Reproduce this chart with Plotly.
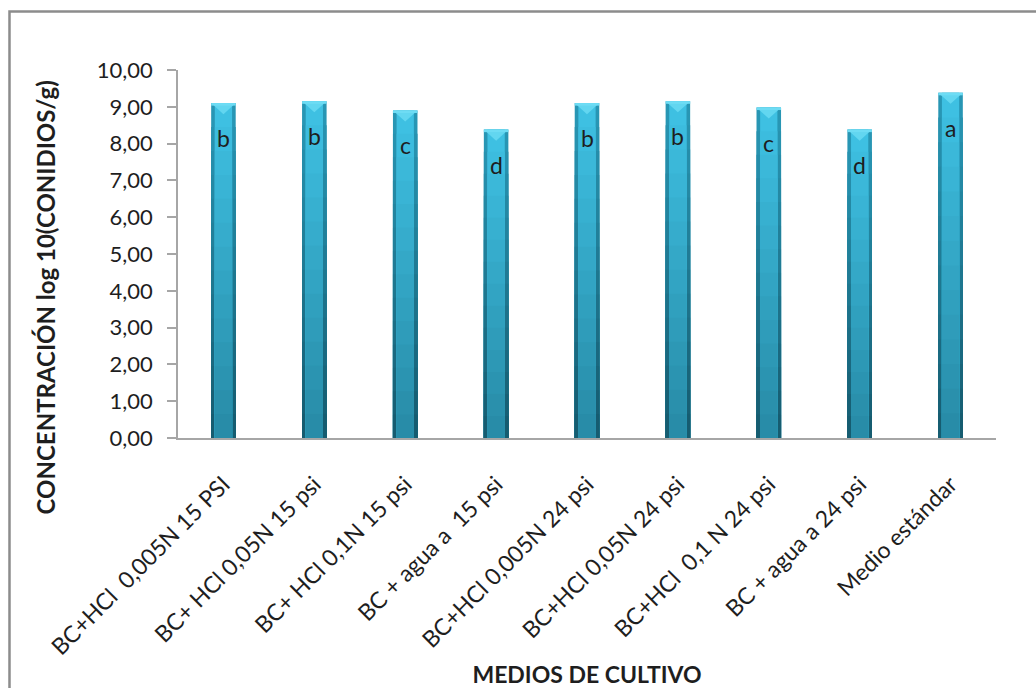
import plotly.graph_objects as go

# Culture media and log10 conidia concentration
medios = [
    "BC+HCl  0,005N 15 PSI",
    "BC+ HCl 0,05N 15 psi",
    "BC+ HCl 0,1N 15 psi",
    "BC + agua a  15 psi",
    "BC+HCl 0,005N 24 psi",
    "BC+HCl 0,05N 24 psi",
    "BC+HCl  0,1 N 24 psi",
    "BC + agua a 24 psi",
    "Medio estándar",
]
concentracion = [9.10, 9.15, 8.90, 8.38, 9.10, 9.15, 8.98, 8.38, 9.38]
letras = ["b", "b", "c", "d", "b", "b", "c", "d", "a"]
y_ticks = [0, 1, 2, 3, 4, 5, 6, 7, 8, 9, 10]

FONT = "Lato, Carlito, Calibri, sans-serif"
BAR_W = 0.27
INNER_W = 0.19
STEPS = 14


def mix(c1, c2, t):
    return "rgb({},{},{})".format(*[round(a + (b - a) * t) for a, b in zip(c1, c2)])


TOP_IN, BOT_IN = (62, 192, 226), (40, 140, 168)
TOP_OUT, BOT_OUT = (40, 150, 180), (22, 92, 112)

fig = go.Figure()

# Stepped overlays give each cylinder a vertical gradient and darker sides
for width, top, bot in [(BAR_W, TOP_OUT, BOT_OUT), (INNER_W, TOP_IN, BOT_IN)]:
    for k in range(STEPS):
        frac = 1 - k / STEPS
        fig.add_trace(go.Bar(
            x=list(range(len(medios))),
            y=[v * frac for v in concentracion],
            width=width,
            marker=dict(color=mix(top, bot, k / (STEPS - 1)), line=dict(width=0)),
            hoverinfo="skip",
            showlegend=False,
        ))

# Bevelled cap on each cylinder
px_per_unit = 367.5 / 10
for i, v in enumerate(concentracion):
    depth = 11 / px_per_unit
    fig.add_shape(
        type="path",
        xref="x", yref="y",
        path=f"M {i - BAR_W / 2} {v} L {i + BAR_W / 2} {v} L {i} {v - depth} Z",
        fillcolor="rgb(98,214,240)",
        line=dict(width=0),
    )
    fig.add_shape(
        type="rect", xref="x", yref="y",
        x0=i - BAR_W / 2, x1=i + BAR_W / 2, y0=v - 2.5 / px_per_unit, y1=v,
        fillcolor="rgb(110,220,244)", line=dict(width=0),
    )
    fig.add_annotation(
        x=i, y=v, xref="x", yref="y", text=letras[i], showarrow=False,
        yshift=-35, font=dict(family=FONT, size=23, color="#1e1e1e"),
    )

# Vertical axis title, centred on the chart area
fig.add_annotation(
    x=-0.1626, y=0.382, xref="paper", yref="paper",
    text="<b>CONCENTRACIÓN log 10(CONIDIOS/g)</b>", textangle=-90,
    showarrow=False, xanchor="center", yanchor="middle",
    font=dict(family=FONT, size=24, color="#1e1e1e"),
)

# Outer chart frame
fig.add_shape(
    type="rect", xref="paper", yref="paper",
    x0=-0.206, x1=1.06, y0=-0.72, y1=1.159,
    line=dict(color="#8c8c8c", width=2.5), fillcolor="rgba(0,0,0,0)", layer="below",
)

fig.update_layout(
    width=1036, height=688,
    margin=dict(l=178, r=40, t=70, b=250),
    paper_bgcolor="white", plot_bgcolor="white",
    barmode="overlay",
    font=dict(family=FONT, size=22, color="#1e1e1e"),
    xaxis=dict(
        tickmode="array",
        tickvals=list(range(len(medios))),
        ticktext=medios,
        range=[-0.5, len(medios) - 0.5],
        tickangle=-45,
        ticks="outside", ticklen=22, tickcolor="rgba(0,0,0,0)",
        showline=True, linecolor="#a6a6a6", linewidth=1.5,
        showgrid=False, zeroline=False,
        automargin=False,
        tickfont=dict(size=23),
        title=dict(text="<b>MEDIOS DE CULTIVO</b>", font=dict(size=23), standoff=14),
    ),
    yaxis=dict(
        range=[0, 10],
        tickvals=y_ticks,
        ticktext=[f"{t:.2f}".replace(".", ",") for t in y_ticks],
        ticks="outside", ticklen=9, tickcolor="#a6a6a6", tickwidth=1.5,
        ticklabelstandoff=10,
        showline=True, linecolor="#a6a6a6", linewidth=1.5,
        showgrid=False, zeroline=False,
        automargin=False,
        tickfont=dict(size=22),
    ),
)

fig.write_html("out.html")
